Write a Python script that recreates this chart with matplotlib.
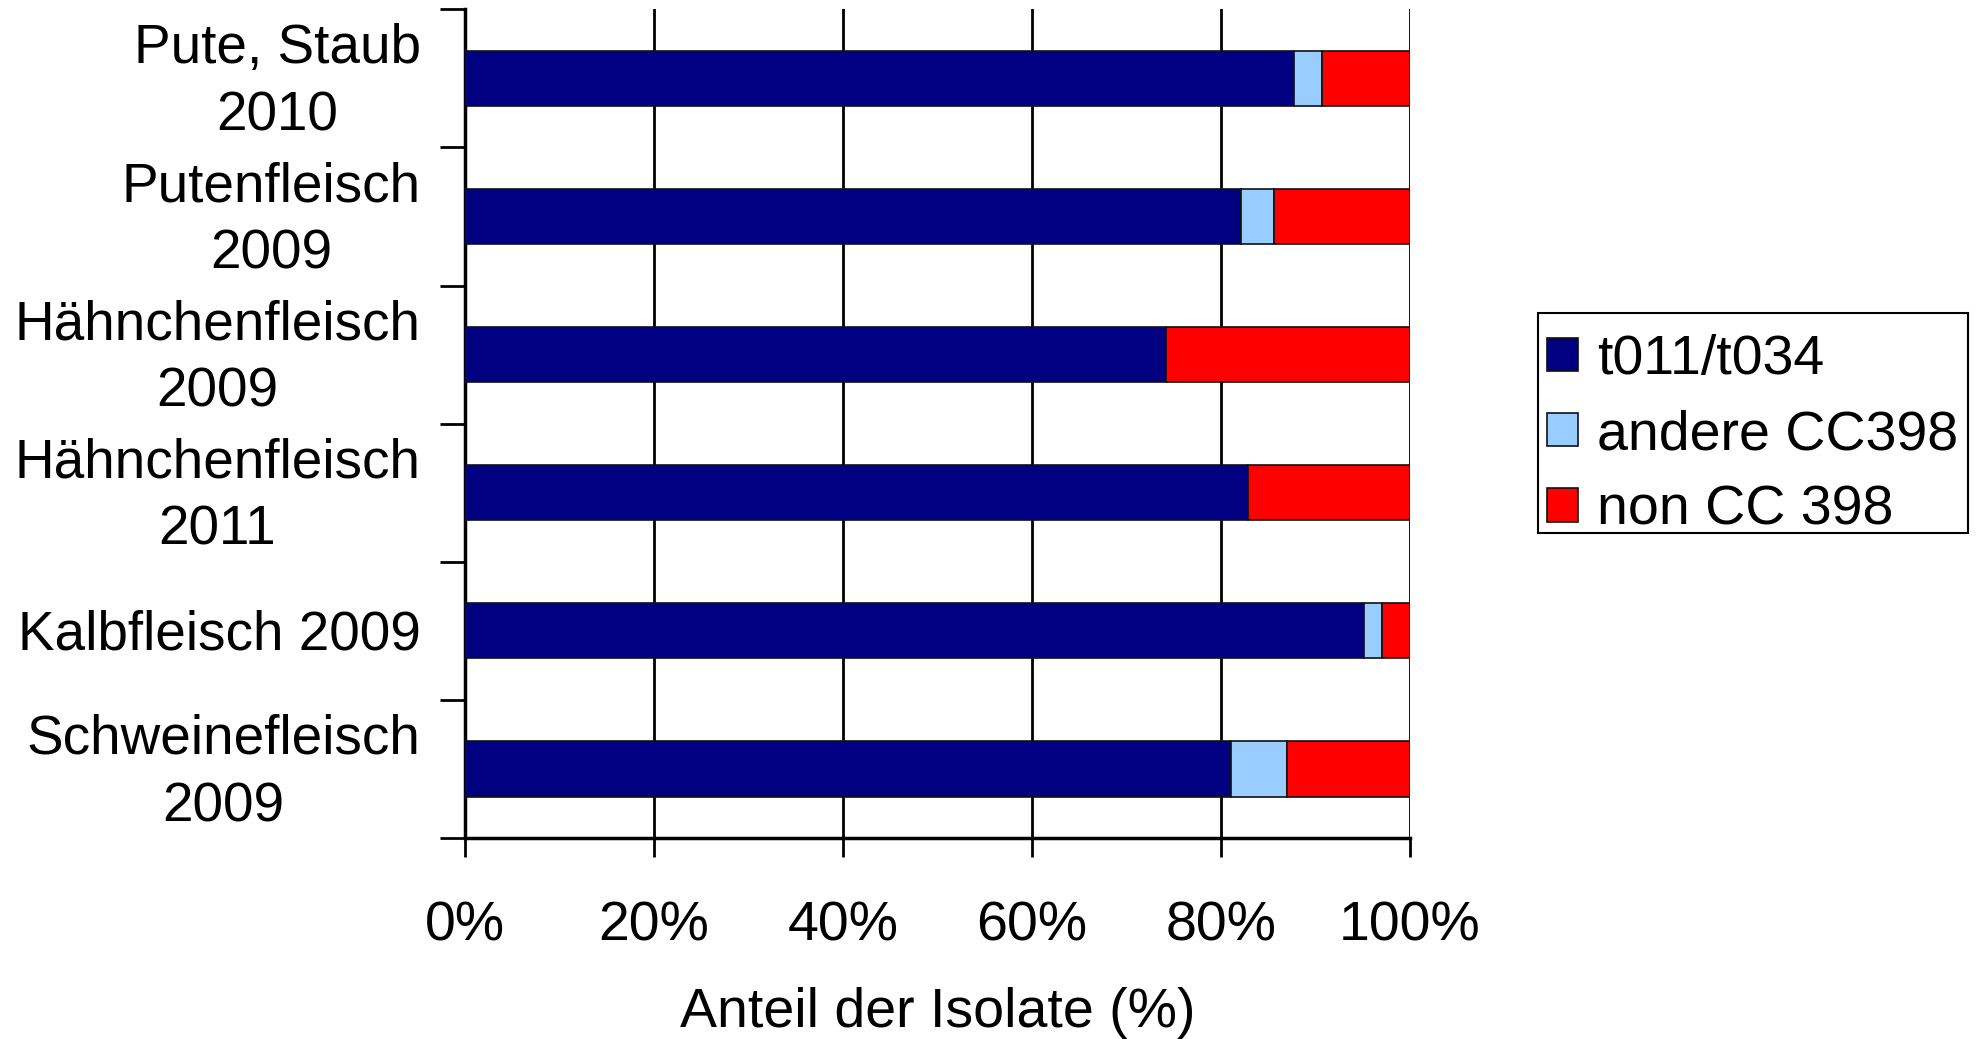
import numpy as np
import matplotlib.pyplot as plt
from matplotlib.patches import Rectangle
from matplotlib.transforms import ScaledTranslation
from matplotlib.ticker import FixedLocator, PercentFormatter

plt.rcParams['font.family'] = ['Liberation Sans', 'DejaVu Sans']

# --------------------------
# DATA (share of isolates, %)
# --------------------------
categories = [
    'Pute, Staub\n2010',
    'Putenfleisch\n2009',
    'Hähnchenfleisch\n2009',
    'Hähnchenfleisch\n2011',
    'Kalbfleisch 2009',
    'Schweinefleisch\n2009',
]
t011_t034 = [87.7, 82.1, 74.2, 82.9, 95.1, 81.1]
andere_cc398 = [3.0, 3.5, 0.0, 0.0, 1.9, 5.9]
non_cc398 = [9.3, 14.4, 25.8, 17.1, 3.0, 13.0]

series_names = ['t011/t034', 'andere CC398', 'non CC 398']
colors = ['#000080', '#99CCFF', '#FF0000']

# --------------------------
# PLOT
# --------------------------
fig = plt.figure(figsize=(19.82, 10.39), dpi=100)
ax = fig.add_axes([0.2346, 0.1935, 0.4768, 0.7975])

y = np.arange(len(categories))
left = np.zeros(len(categories))
for vals, name, col in zip([t011_t034, andere_cc398, non_cc398], series_names, colors):
    vals = np.array(vals)
    ax.barh(y, vals, left=left, height=0.4, color=col, edgecolor='#111111',
            linewidth=1.2, label=name, zorder=3)
    left += vals

ax.set_xlim(0, 100)
ax.set_ylim(len(categories) - 0.5, -0.5)

# x axis
ax.set_xticks([0, 20, 40, 60, 80, 100])
ax.xaxis.set_major_formatter(PercentFormatter(decimals=0))
ax.tick_params(axis='x', direction='out', length=14, width=2, pad=31, labelsize=40)
ax.grid(axis='x', color='black', linewidth=2, zorder=1)
ax.set_xlabel('Anteil der Isolate (%)', fontsize=40, labelpad=25)

# y axis: labels at centres, ticks at category boundaries
ax.set_yticks(y)
ax.yaxis.set_minor_locator(FixedLocator(np.arange(-0.5, len(categories), 1.0)))
ax.tick_params(axis='y', which='major', length=0, pad=32, labelsize=39.5)
ax.tick_params(axis='y', which='minor', direction='out', length=18, width=2)
ax.set_yticklabels(categories, multialignment='center', linespacing=1.38,
                   va='center')
# push the category labels down a little
nudge = ScaledTranslation(0, -0.045, fig.dpi_scale_trans)
for lab in ax.get_yticklabels():
    lab.set_transform(lab.get_transform() + nudge)

for s in ['top', 'right']:
    ax.spines[s].set_visible(False)
for s in ['left', 'bottom']:
    ax.spines[s].set_linewidth(2.5)

# legend entries, with a plain box drawn around them
leg = fig.legend(loc='center left', bbox_to_anchor=(0.7805, 0.581), fontsize=40,
                 frameon=False, handlelength=0.55, handleheight=0.55,
                 handletextpad=0.35, labelspacing=0.42, borderpad=0,
                 borderaxespad=0)
fig.add_artist(Rectangle((0.776, 0.487), 0.217, 0.212, transform=fig.transFigure,
                         fill=False, edgecolor='black', linewidth=1.5))

fig.savefig('out.png', dpi=100)
